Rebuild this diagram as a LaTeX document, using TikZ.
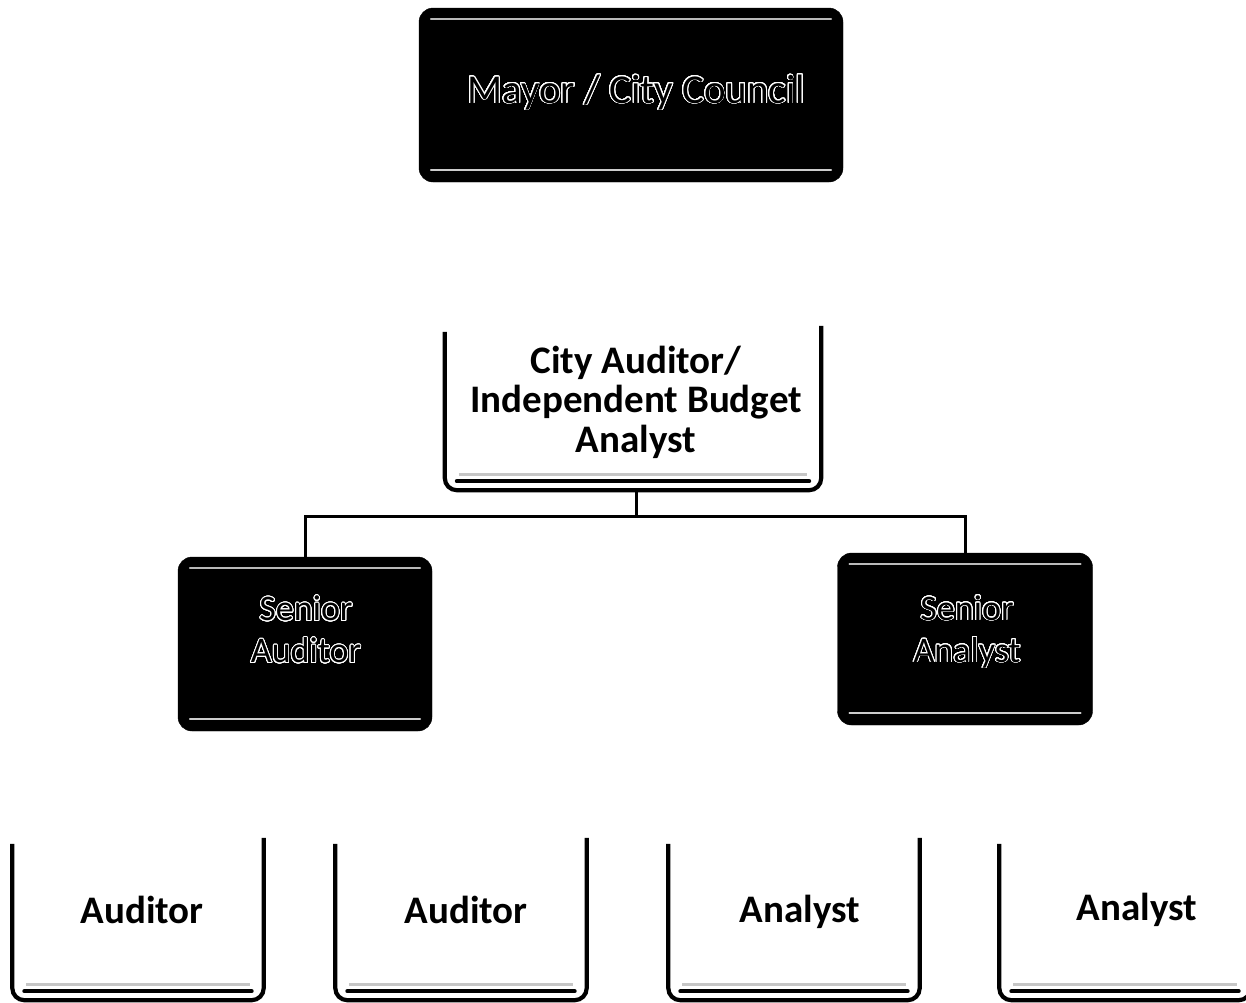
\documentclass[tikz,border=0pt]{standalone}
\usepackage{fontspec}
\setmainfont{Carlito}
\usepackage{contour}
\contourlength{0.95pt}
\contournumber{32}
\usetikzlibrary{calc}
\begin{document}
\begin{tikzpicture}[x=1pt,y=-1pt,
  blackbox/.style={fill=black, draw=black, rounded corners=14pt, inner sep=0pt},
  openbox/.style={inner sep=0pt},
  uline/.style={line width=4.2pt, rounded corners=12pt},
  ubar/.style={line width=4pt, line cap=round},
  uhaze/.style={line width=3pt, gray!45},
  hilite/.style={line width=1.6pt, gray!55, line cap=round},
  conn/.style={line width=3pt},
  btxt/.style={font=\fontsize{39}{39.5}\selectfont\bfseries, align=center, inner sep=0pt},
  otxt/.style={font=\fontsize{36}{42}\selectfont, text=black, align=center, inner sep=0pt},
  mtxt/.style={font=\fontsize{41}{44}\selectfont, text=black, inner sep=0pt},
]
\useasboundingbox (0,0) rectangle (1246,1002);
\fill[white] (0,0) rectangle (1246,1002);

% ---- black boxes
\node[blackbox, minimum width=424, minimum height=174] (mayor) at (631,95) {};
\node[blackbox, minimum width=254, minimum height=174] (sa) at (305,644) {};
\node[blackbox, minimum width=255, minimum height=172] (san) at (965,639) {};
\foreach \b in {mayor,sa,san}{
  \draw[hilite] ($(\b.north west)+(12,11)$) -- ($(\b.north east)+(-12,11)$);
  \draw[hilite, gray!40] ($(\b.south west)+(12,-12)$) -- ($(\b.south east)+(-12,-12)$);
}
\node[mtxt, anchor=base] (mayortxt) at (636,103) {\contour{white}{Mayor / City Council}};
\node[otxt] (satxt) at (306,630) {\contour{white}{Senior}\\\contour{white}{Auditor}};
\node[otxt] (santxt) at (967,632) {\contour{white}{Senior}\\\contour{white}{Analyst}};

% ---- open (U-shaped) boxes
\node[openbox, minimum width=376, minimum height=164] (ca) at (633,408) {};
\node[openbox, minimum width=251, minimum height=162] (a1) at (138,919) {};
\node[openbox, minimum width=251, minimum height=162] (a2) at (461,919) {};
\node[openbox, minimum width=251, minimum height=162] (n1) at (794,919) {};
\node[openbox, minimum width=251, minimum height=162] (n2) at (1125,919) {};
\foreach \b in {ca,a1,a2,n1,n2}{
  \draw[uline] ($(\b.north west)+(0,6)$) -- (\b.south west) -- (\b.south east) -- (\b.north east);
  \draw[ubar] ($(\b.south west)+(12,-9)$) -- ($(\b.south east)+(-12,-9)$);
  \draw[uhaze] ($(\b.south west)+(14,-16)$) -- ($(\b.south east)+(-14,-16)$);
}
\node[btxt] (catxt) at (636,402) {City Auditor/\\Independent Budget\\Analyst};
\node[btxt, anchor=base] (a1txt) at (142,923) {Auditor};
\node[btxt, anchor=base] (a2txt) at (466,923) {Auditor};
\node[btxt, anchor=base] (n1txt) at (800,922) {Analyst};
\node[btxt, anchor=base] (n2txt) at (1137,920) {Analyst};

% ---- connectors
\coordinate (j) at (636,516);
\draw[conn] (ca.south -| j) -- (j);
\draw[conn] (j) -| (sa.north);
\draw[conn] (j) -| (san.north);
\end{tikzpicture}
\end{document}
